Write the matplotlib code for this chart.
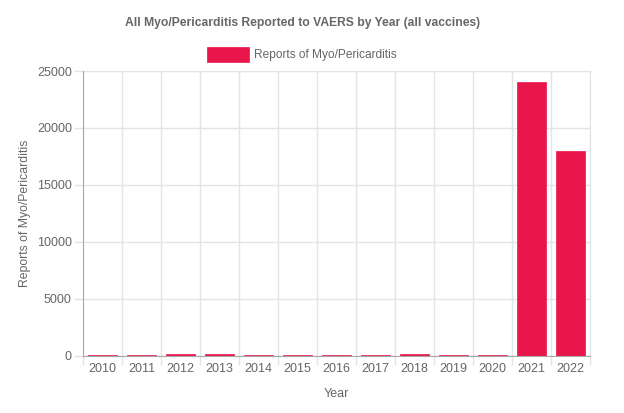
import numpy as np
import matplotlib
matplotlib.use("Agg")
import matplotlib.pyplot as plt
from matplotlib.patches import Rectangle

years = ["2010", "2011", "2012", "2013", "2014", "2015", "2016",
         "2017", "2018", "2019", "2020", "2021", "2022"]
reports = [80, 80, 160, 160, 90, 40, 80, 80, 180, 70, 70, 24000, 18000]
y_ticks = [0, 5000, 10000, 15000, 20000, 25000]

BAR_COLOR = "#e8164a"
TEXT_COLOR = "#666666"
GRID_COLOR = "#e4e4e4"
AXIS_COLOR = "#a8a8a8"

plt.rcParams["font.family"] = ["Liberation Sans", "DejaVu Sans"]

fig = plt.figure(figsize=(6.24, 4.13), dpi=100)
ax = fig.add_axes([0.133, 0.139, 0.8125, 0.689])

x = np.arange(len(years))
ax.bar(x, reports, width=0.73, color=BAR_COLOR, edgecolor=BAR_COLOR,
       linewidth=0.5, zorder=3, label="Reports of Myo/Pericarditis")

ax.set_xlim(-0.5, len(years) - 0.5)
ax.set_ylim(0, 25000)
ax.set_yticks(y_ticks)
ax.set_yticklabels([str(v) for v in y_ticks])
ax.set_xticks(x)
ax.set_xticklabels(years)
ax.set_xticks(np.arange(-0.5, len(years)), minor=True)

ax.tick_params(axis="x", which="major", length=0, pad=5,
               labelsize=9, labelcolor=TEXT_COLOR)
ax.tick_params(axis="x", which="minor", length=6.5, color=GRID_COLOR, width=1)
ax.tick_params(axis="y", length=6.5, color=GRID_COLOR, width=1, pad=1.5,
               labelsize=9, labelcolor=TEXT_COLOR)

ax.grid(True, axis="y", color=GRID_COLOR, linewidth=1, zorder=0)
ax.grid(True, axis="x", which="minor", color=GRID_COLOR, linewidth=1, zorder=0)

for side in ["top", "right"]:
    ax.spines[side].set_color(GRID_COLOR)
for side in ["left", "bottom"]:
    ax.spines[side].set_color(AXIS_COLOR)
    ax.spines[side].set_zorder(4)

ax.set_xlabel("Year", fontsize=9, color=TEXT_COLOR, labelpad=9.5)
ax.set_ylabel("Reports of Myo/Pericarditis", fontsize=8.8, color=TEXT_COLOR,
              labelpad=4)

fig.text(0.485, 0.945, "All Myo/Pericarditis Reported to VAERS by Year (all vaccines)",
         ha="center", va="center", fontsize=8.7, fontweight="bold",
         color=TEXT_COLOR)

# legend drawn Chart.js-style: wide colour box + label
fig.patches.append(Rectangle((207 / 624, 1 - 62 / 413), 42 / 624, 15 / 413,
                             transform=fig.transFigure, facecolor=BAR_COLOR,
                             edgecolor=BAR_COLOR, linewidth=0.5))
fig.text(254 / 624, 1 - 55 / 413, "Reports of Myo/Pericarditis",
         ha="left", va="center", fontsize=8.6, color=TEXT_COLOR)

fig.savefig("out.png", dpi=100)
